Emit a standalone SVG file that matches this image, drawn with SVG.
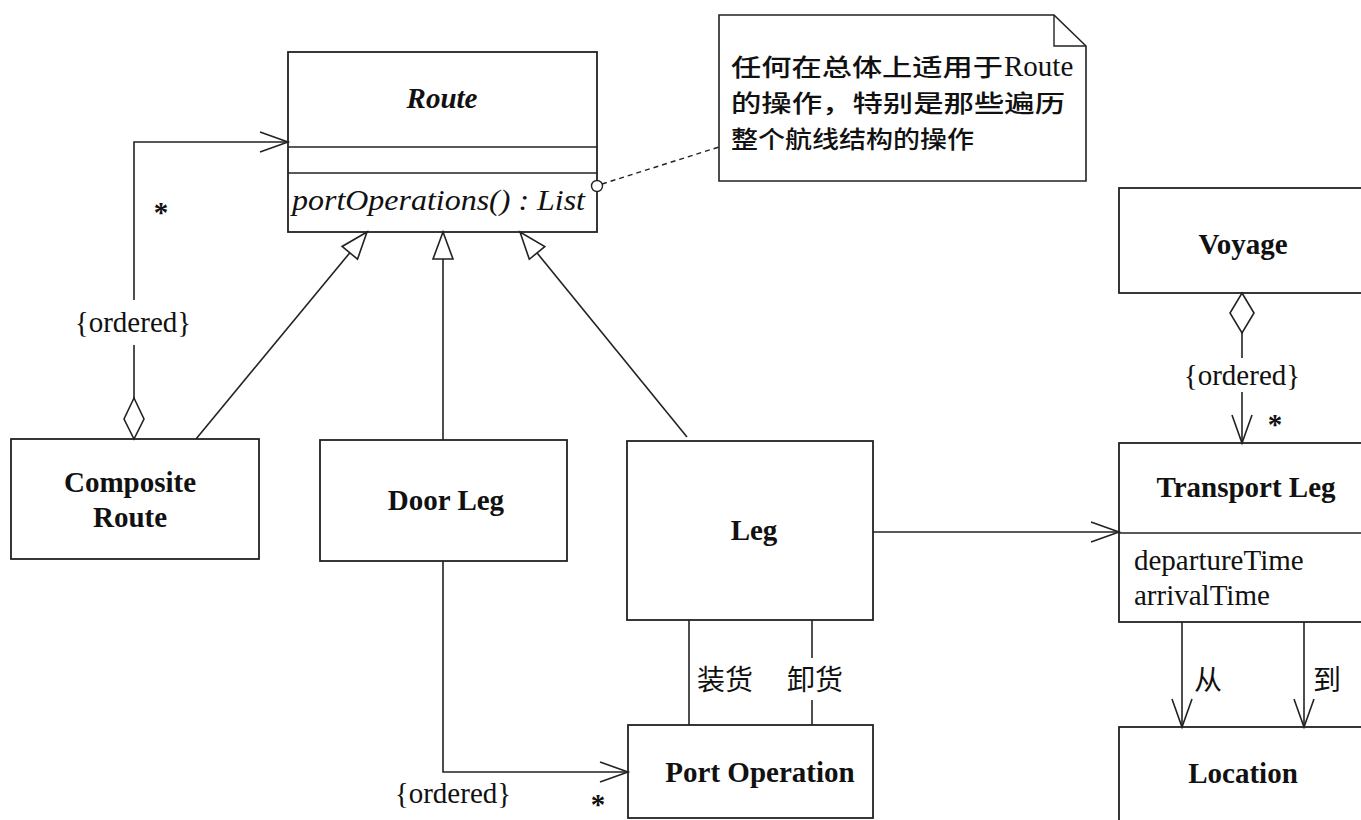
<svg xmlns="http://www.w3.org/2000/svg" width="1361" height="820" viewBox="0 0 1361 820">
<style>
.box{fill:#fff;stroke:#222;stroke-width:1.8}
.ln{fill:none;stroke:#222;stroke-width:1.6}
.dash{fill:none;stroke:#222;stroke-width:1.4;stroke-dasharray:5 4}
.t{font-family:"Liberation Serif","Times New Roman",serif;font-size:29px;fill:#111}
.b{font-weight:bold}
.c{text-anchor:middle}
.cjk{font-family:"Noto Sans CJK SC","Liberation Sans",sans-serif;font-size:28px;fill:#111}
.note{font-family:"Noto Sans CJK SC","Liberation Sans",sans-serif;font-size:24px;font-weight:500;fill:#111}
</style>
<defs>
<marker id="open" markerUnits="userSpaceOnUse" markerWidth="40" markerHeight="30" viewBox="-30 -15 32 30" refX="0" refY="0" orient="auto">
<path d="M-28,-10 L0,0 L-28,10" fill="none" stroke="#222" stroke-width="1.6"/>
</marker>
<marker id="gen" markerUnits="userSpaceOnUse" markerWidth="40" markerHeight="30" viewBox="-30 -15 32 30" refX="0" refY="0" orient="auto">
<path d="M0,0 L-27,-10 L-27,10 Z" fill="#fff" stroke="#222" stroke-width="1.6"/>
</marker>
</defs>
<rect width="1361" height="820" fill="#fff"/>

<g id="route">
<rect class="box" x="288" y="52" width="309" height="180"/>
<line class="ln" x1="288" y1="147" x2="597" y2="147"/>
<line class="ln" x1="288" y1="173" x2="597" y2="173"/>
<text class="t b c" x="442" y="108" font-style="italic">Route</text>
<text class="t" x="292" y="210" font-style="italic" textLength="293" lengthAdjust="spacingAndGlyphs">portOperations() : List</text>
</g>

<g id="note">
<path d="M719,15 L1054,15 L1086,46 L1086,181 L719,181 Z" fill="#fff" stroke="#222" stroke-width="1.6"/>
<path d="M1054,15 L1054,46 L1086,46" fill="none" stroke="#222" stroke-width="1.4"/>
<text class="note" x="731" y="76" textLength="272" lengthAdjust="spacingAndGlyphs">任何在总体上适用于</text>
<text class="t" x="1004" y="76" font-size="28">Route</text>
<text class="note" x="731" y="112" textLength="334" lengthAdjust="spacingAndGlyphs">的操作，特别是那些遍历</text>
<text class="note" x="731" y="148" textLength="243" lengthAdjust="spacingAndGlyphs">整个航线结构的操作</text>
</g>

<g id="composite-route">
<rect class="box" x="11" y="439" width="248" height="120"/>
<text class="t b c" x="130" y="492">Composite</text>
<text class="t b c" x="130" y="527">Route</text>
</g>

<g id="door-leg">
<rect class="box" x="320" y="440" width="247" height="121"/>
<text class="t b c" x="446" y="510">Door Leg</text>
</g>

<g id="leg">
<rect class="box" x="627" y="441" width="246" height="179"/>
<text class="t b c" x="754" y="540">Leg</text>
</g>

<g id="port-operation">
<rect class="box" x="628" y="725" width="245" height="93"/>
<text class="t b c" x="760" y="782">Port Operation</text>
</g>

<g id="voyage">
<rect class="box" x="1119" y="188" width="260" height="105"/>
<text class="t b c" x="1243" y="254">Voyage</text>
</g>

<g id="transport-leg">
<rect class="box" x="1119" y="443" width="260" height="179"/>
<line class="ln" x1="1119" y1="533" x2="1370" y2="533"/>
<text class="t b c" x="1246" y="497">Transport Leg</text>
<text class="t" x="1134" y="570">departureTime</text>
<text class="t" x="1134" y="605">arrivalTime</text>
</g>

<g id="location">
<rect class="box" x="1119" y="727" width="260" height="110"/>
<text class="t b c" x="1243" y="783">Location</text>
</g>

<g id="connectors">
<!-- Composite Route aggregation to Route -->
<polyline class="ln" points="134,398 134,345"/>
<polyline class="ln" points="134,300 134,142 288,142" marker-end="url(#open)"/>
<polygon points="134,398 144,419 134,439 124,419" fill="#fff" stroke="#222" stroke-width="1.6"/>
<!-- generalizations -->
<line class="ln" x1="196" y1="439" x2="367" y2="232" marker-end="url(#gen)"/>
<line class="ln" x1="443" y1="440" x2="443" y2="232" marker-end="url(#gen)"/>
<line class="ln" x1="687" y1="437" x2="520" y2="232" marker-end="url(#gen)"/>
<!-- note anchor -->
<line class="dash" x1="602" y1="184" x2="719" y2="147"/>
<circle cx="597" cy="186" r="5.5" fill="#fff" stroke="#222" stroke-width="1.4"/>
<!-- Door Leg to Port Operation -->
<polyline class="ln" points="443,561 443,772 628,772" marker-end="url(#open)"/>
<!-- Leg to Transport Leg -->
<line class="ln" x1="873" y1="532" x2="1119" y2="532" marker-end="url(#open)"/>
<!-- Leg to Port Operation -->
<line class="ln" x1="689" y1="620" x2="689" y2="725"/>
<line class="ln" x1="812" y1="620" x2="812" y2="658"/>
<line class="ln" x1="812" y1="700" x2="812" y2="725"/>
<!-- Voyage aggregation to Transport Leg -->
<polygon points="1242,293 1254,313 1242,333 1230,313" fill="#fff" stroke="#222" stroke-width="1.6"/>
<line class="ln" x1="1242" y1="333" x2="1242" y2="358"/>
<line class="ln" x1="1242" y1="392" x2="1242" y2="443" marker-end="url(#open)"/>
<!-- Transport Leg to Location -->
<line class="ln" x1="1182" y1="622" x2="1182" y2="727" marker-end="url(#open)"/>
<line class="ln" x1="1304" y1="622" x2="1304" y2="727" marker-end="url(#open)"/>
<!-- labels -->
<text class="t b" x="161" y="222" text-anchor="middle">*</text>
<text class="t c" x="133" y="332">{ordered}</text>
<text class="t c" x="1242" y="385">{ordered}</text>
<text class="t b" x="1275" y="434" text-anchor="middle">*</text>
<text class="t c" x="453" y="803">{ordered}</text>
<text class="t b" x="598" y="814" text-anchor="middle">*</text>
<text class="cjk c" x="725" y="690">装货</text>
<text class="cjk c" x="815" y="690">卸货</text>
<text class="cjk c" x="1208" y="690">从</text>
<text class="cjk c" x="1327" y="690">到</text>
</g>
</svg>
